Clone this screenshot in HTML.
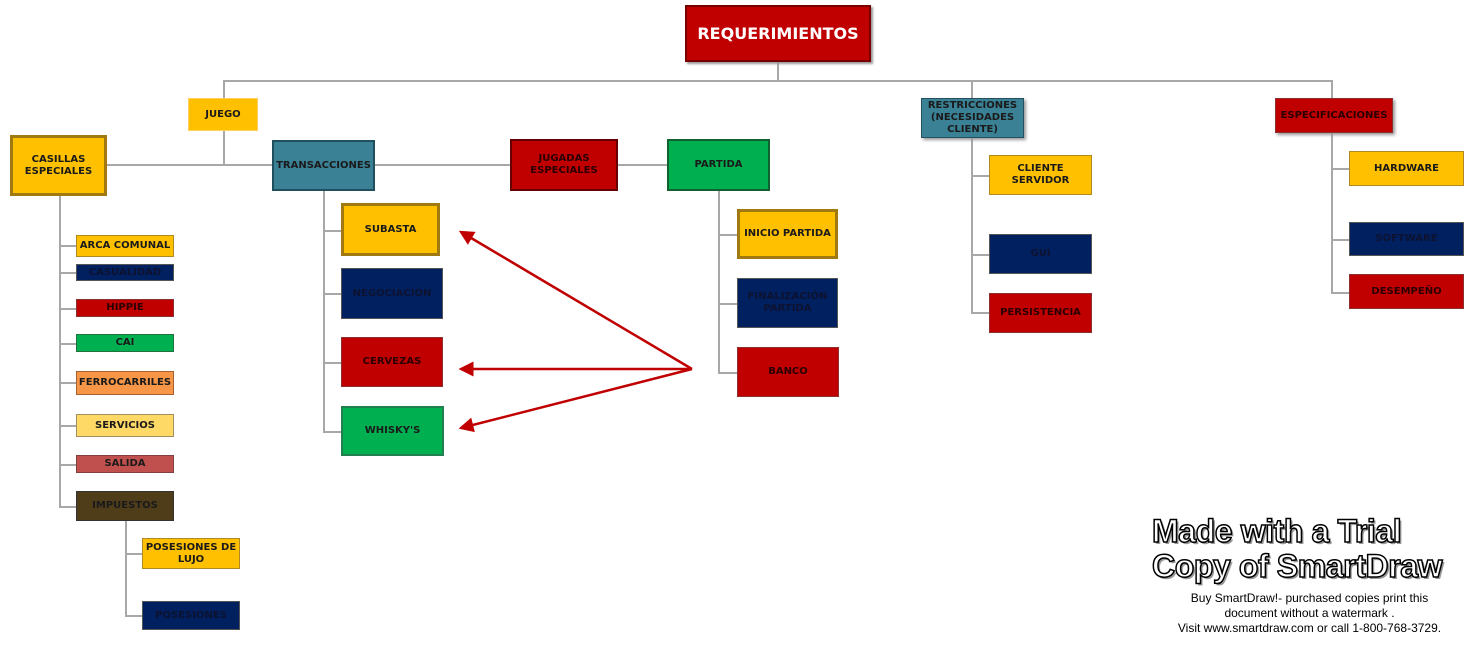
<!DOCTYPE html>
<html><head><meta charset="utf-8">
<style>
body{margin:0;width:1469px;height:652px;background:#fff;position:relative;overflow:hidden;font-family:"DejaVu Sans","Liberation Sans",sans-serif;}
.b{position:absolute;box-sizing:border-box;display:flex;align-items:center;justify-content:center;text-align:center;font-weight:bold;font-size:10px;line-height:12px;color:#1a1a1a;border:1px solid #888;}
.y{background:#ffc000;border-color:#b08a20}
.yt{background:#ffc000;border:3px solid #a07a10}
.n{background:#002060;color:#0d1230;border-color:#555}
.r{background:#c00000;color:#2a0000;border-color:#8a3030}
.g{background:#00b050;border-color:#207040}
.t{background:#3a8196;border-color:#245060}
.l{position:absolute;background:#a8a8a8}
.h{height:2px}.v{width:2px}
.wm{position:absolute;font-family:"Liberation Sans",sans-serif;font-weight:bold;font-size:32px;color:#fff;-webkit-text-stroke:1.5px #000;letter-spacing:-0.4px;line-height:33px;text-shadow:2px 2px 0 #999;}
.sm{position:absolute;font-family:"Liberation Sans",sans-serif;font-size:12px;color:#000;text-align:center;line-height:15px;}
</style></head><body>
<div class="l v" style="left:777px;top:62px;height:20px"></div>
<div class="l h" style="left:223px;top:80px;width:1110px"></div>
<div class="l v" style="left:223px;top:80px;height:18px"></div>
<div class="l v" style="left:223px;top:131px;height:35px"></div>
<div class="l h" style="left:107px;top:164px;width:563px"></div>
<div class="l v" style="left:971px;top:80px;height:233px"></div>
<div class="l v" style="left:1331px;top:80px;height:213px"></div>
<div class="l v" style="left:59px;top:196px;height:311px"></div>
<div class="l h" style="left:59px;top:245px;width:18px"></div>
<div class="l h" style="left:59px;top:272px;width:18px"></div>
<div class="l h" style="left:59px;top:308px;width:18px"></div>
<div class="l h" style="left:59px;top:343px;width:18px"></div>
<div class="l h" style="left:59px;top:382px;width:18px"></div>
<div class="l h" style="left:59px;top:425px;width:18px"></div>
<div class="l h" style="left:59px;top:464px;width:18px"></div>
<div class="l h" style="left:59px;top:506px;width:18px"></div>
<div class="l v" style="left:125px;top:521px;height:95px"></div>
<div class="l h" style="left:125px;top:553px;width:18px"></div>
<div class="l h" style="left:125px;top:615px;width:18px"></div>
<div class="l v" style="left:323px;top:191px;height:241px"></div>
<div class="l h" style="left:323px;top:230px;width:18px"></div>
<div class="l h" style="left:323px;top:293px;width:18px"></div>
<div class="l h" style="left:323px;top:362px;width:18px"></div>
<div class="l h" style="left:323px;top:431px;width:18px"></div>
<div class="l v" style="left:718px;top:191px;height:182px"></div>
<div class="l h" style="left:718px;top:234px;width:19px"></div>
<div class="l h" style="left:718px;top:303px;width:19px"></div>
<div class="l h" style="left:718px;top:372px;width:19px"></div>
<div class="l h" style="left:971px;top:175px;width:18px"></div>
<div class="l h" style="left:971px;top:254px;width:18px"></div>
<div class="l h" style="left:971px;top:312px;width:18px"></div>
<div class="l h" style="left:1331px;top:168px;width:18px"></div>
<div class="l h" style="left:1331px;top:239px;width:18px"></div>
<div class="l h" style="left:1331px;top:292px;width:18px"></div>

<div class="b r" style="left:685px;top:5px;width:186px;height:57px;color:#fff;font-size:16px;border:2px solid #7a0000;box-shadow:2px 2px 2px #999">REQUERIMIENTOS</div>
<div class="b y" style="left:188px;top:98px;width:70px;height:33px;border-color:#ffd060">JUEGO</div>
<div class="b yt" style="left:10px;top:135px;width:97px;height:61px">CASILLAS<br>ESPECIALES</div>
<div class="b t" style="left:272px;top:140px;width:103px;height:51px;border:2px solid #20505e">TRANSACCIONES</div>
<div class="b r" style="left:510px;top:139px;width:108px;height:52px;border:2px solid #600">JUGADAS<br>ESPECIALES</div>
<div class="b g" style="left:667px;top:139px;width:103px;height:52px;border:2px solid #106030">PARTIDA</div>
<div class="b t" style="left:921px;top:98px;width:103px;height:40px;box-shadow:2px 2px 3px #999">RESTRICCIONES<br>(NECESIDADES<br>CLIENTE)</div>
<div class="b r" style="left:1275px;top:98px;width:118px;height:35px;box-shadow:2px 2px 3px #999">ESPECIFICACIONES</div>

<div class="b y" style="left:76px;top:235px;width:98px;height:22px">ARCA COMUNAL</div>
<div class="b n" style="left:76px;top:264px;width:98px;height:17px">CASUALIDAD</div>
<div class="b r" style="left:76px;top:299px;width:98px;height:18px">HIPPIE</div>
<div class="b g" style="left:76px;top:334px;width:98px;height:18px">CAI</div>
<div class="b" style="left:76px;top:371px;width:98px;height:24px;background:#f79646;border-color:#a86030">FERROCARRILES</div>
<div class="b" style="left:76px;top:414px;width:98px;height:23px;background:#ffd966;border-color:#a09060">SERVICIOS</div>
<div class="b" style="left:76px;top:455px;width:98px;height:18px;background:#c0504d;border-color:#804040">SALIDA</div>
<div class="b" style="left:76px;top:491px;width:98px;height:30px;background:#4f3d1a;border-color:#333">IMPUESTOS</div>
<div class="b y" style="left:142px;top:538px;width:98px;height:31px">POSESIONES DE<br>LUJO</div>
<div class="b n" style="left:142px;top:601px;width:98px;height:29px">POSESIONES</div>

<div class="b yt" style="left:341px;top:203px;width:99px;height:53px">SUBASTA</div>
<div class="b n" style="left:341px;top:268px;width:102px;height:51px">NEGOCIACIÓN</div>
<div class="b r" style="left:341px;top:337px;width:102px;height:50px">CERVEZAS</div>
<div class="b g" style="left:341px;top:406px;width:103px;height:50px;border:2px solid #208050">WHISKY'S</div>

<div class="b yt" style="left:737px;top:209px;width:101px;height:50px">INICIO PARTIDA</div>
<div class="b n" style="left:737px;top:278px;width:101px;height:50px">FINALIZACIÓN<br>PARTIDA</div>
<div class="b r" style="left:737px;top:347px;width:102px;height:50px">BANCO</div>

<div class="b y" style="left:989px;top:155px;width:103px;height:40px">CLIENTE<br>SERVIDOR</div>
<div class="b n" style="left:989px;top:234px;width:103px;height:40px">GUI</div>
<div class="b r" style="left:989px;top:293px;width:103px;height:40px">PERSISTENCIA</div>

<div class="b y" style="left:1349px;top:151px;width:115px;height:35px">HARDWARE</div>
<div class="b n" style="left:1349px;top:222px;width:115px;height:34px">SOFTWARE</div>
<div class="b r" style="left:1349px;top:274px;width:115px;height:35px">DESEMPEÑO</div>

<svg style="position:absolute;left:0;top:0" width="1469" height="652">
<defs><marker id="a" markerWidth="6" markerHeight="6" refX="5" refY="3" orient="auto" markerUnits="strokeWidth"><path d="M0,0 L6,3 L0,6 z" fill="#c00000"/></marker></defs>
<g stroke="#c00000" stroke-width="2.5" fill="none">
<line x1="692" y1="369" x2="461" y2="232" marker-end="url(#a)"/>
<line x1="692" y1="369" x2="461" y2="369" marker-end="url(#a)"/>
<line x1="692" y1="369" x2="461" y2="428" marker-end="url(#a)"/>
</g></svg>

<div class="wm" style="left:1152px;top:515px">Made with a Trial</div>
<div class="wm" style="left:1152px;top:550px">Copy of SmartDraw</div>
<div class="sm" style="left:1150px;top:591px;width:319px">Buy SmartDraw!- purchased copies print this<br>document without a watermark .<br>Visit www.smartdraw.com or call 1-800-768-3729.</div>
</body></html>
